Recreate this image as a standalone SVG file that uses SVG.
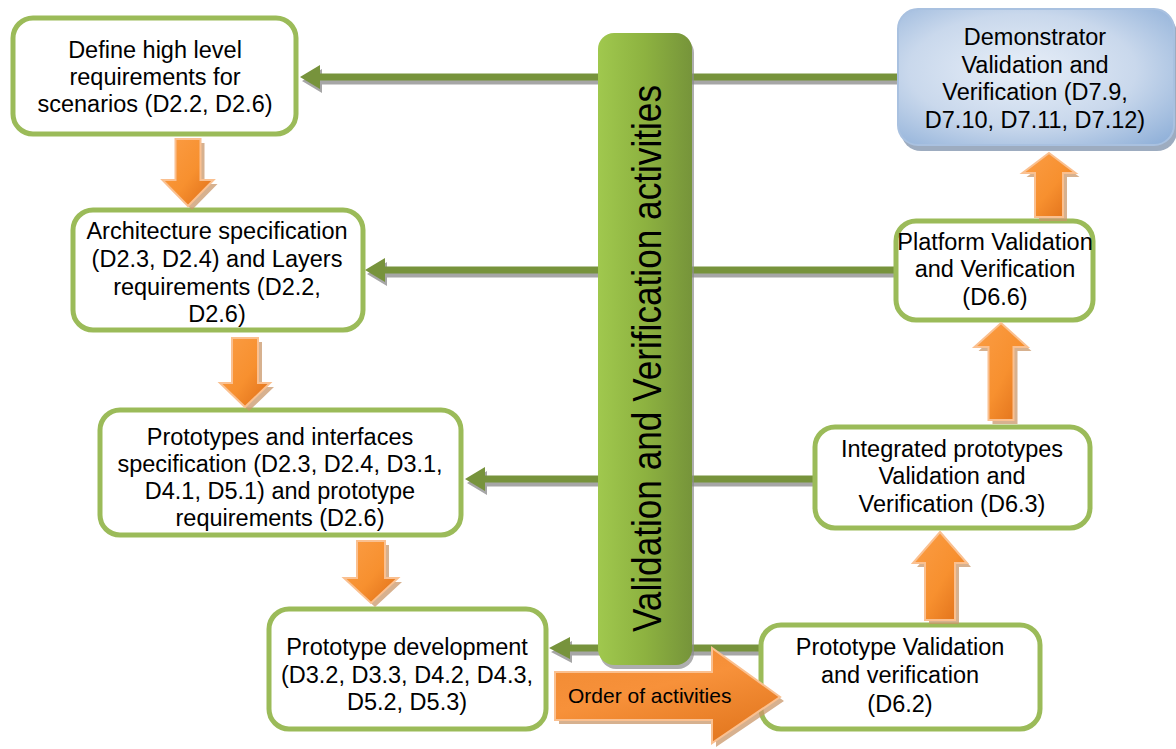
<svg xmlns="http://www.w3.org/2000/svg" width="1176" height="749" viewBox="0 0 1176 749">
  <defs>
    <linearGradient id="orangeFill" x1="0" y1="0" x2="1" y2="1">
      <stop offset="0" stop-color="#FB9D45"/>
      <stop offset="0.55" stop-color="#F7902F"/>
      <stop offset="1" stop-color="#DD6C17"/>
    </linearGradient>
    <linearGradient id="orderFill" x1="0" y1="0" x2="0.6" y2="1">
      <stop offset="0" stop-color="#F08A33"/>
      <stop offset="0.5" stop-color="#F7913A"/>
      <stop offset="1" stop-color="#E57A22"/>
    </linearGradient>
    <linearGradient id="barFill" x1="0" y1="0" x2="1" y2="0">
      <stop offset="0" stop-color="#A0C84E"/>
      <stop offset="0.5" stop-color="#8DB240"/>
      <stop offset="1" stop-color="#76943A"/>
    </linearGradient>
    <radialGradient id="blueFill" cx="0.45" cy="0.45" r="0.75">
      <stop offset="0" stop-color="#E8EFF8"/>
      <stop offset="0.55" stop-color="#C9D8EC"/>
      <stop offset="1" stop-color="#8EAFD8"/>
    </radialGradient>
    <style>
      .box { fill: #ffffff; stroke: #9BBB59; stroke-width: 5; }
      .label { font-family: "Liberation Sans", Arial, sans-serif; font-size: 23.5px; fill: #000000; text-anchor: middle; }
      .link { fill: #77933C; }
      .link-shadow { fill: #A6A6A6; }
      .flow { fill: url(#orangeFill); stroke: #FAC090; stroke-width: 2; stroke-linejoin: miter; }
      .flow-shadow { fill: #C9976A; opacity: 0.75; }
    </style>
  </defs>

  <rect width="1176" height="749" fill="#ffffff"/>

  <!-- feedback links from the V&V side back to the specification side -->
  <g id="connectors">
    <g transform="translate(2,4)">
      <path class="link-shadow" d="M897,73.5 H320 V65 L300,77 L320,89 V80.5 H897 Z"/>
      <path class="link-shadow" d="M895,266.5 H385 V258 L365,270 L385,282 V273.5 H895 Z"/>
      <path class="link-shadow" d="M815,475.5 H485 V467 L465,479 L485,491 V482.5 H815 Z"/>
      <path class="link-shadow" d="M762,644.5 H570 V637 L549,648 L570,659 V651.5 H762 Z"/>
    </g>
    <path class="link" d="M897,73.5 H320 V65 L300,77 L320,89 V80.5 H897 Z"/>
    <path class="link" d="M895,266.5 H385 V258 L365,270 L385,282 V273.5 H895 Z"/>
    <path class="link" d="M815,475.5 H485 V467 L465,479 L485,491 V482.5 H815 Z"/>
    <path class="link" d="M762,644.5 H570 V637 L549,648 L570,659 V651.5 H762 Z"/>
  </g>

  <!-- central V&V bar -->
  <g id="vv-bar">
    <rect x="600" y="37" width="94" height="632" rx="16" fill="#8C8C8C" opacity="0.7"/>
    <rect x="598" y="33" width="94" height="632" rx="16" fill="url(#barFill)"/>
    <text transform="translate(661,632) rotate(-90)" font-family="'Liberation Sans', Arial, sans-serif" font-size="40" textLength="547" lengthAdjust="spacingAndGlyphs" fill="#000000">Validation and Verification activities</text>
  </g>

  <g id="n-define">
    <rect class="box" x="13" y="18" width="283" height="116" rx="20"/>
    <text class="label"><tspan x="155" y="58">Define high level</tspan><tspan x="155" y="85">requirements for</tspan><tspan x="155" y="112">scenarios (D2.2, D2.6)</tspan></text>
  </g>

  <g id="n-architecture">
    <rect class="box" x="73" y="210" width="290" height="120" rx="20"/>
    <text class="label"><tspan x="217" y="239">Architecture specification</tspan><tspan x="217" y="267">(D2.3, D2.4) and Layers</tspan><tspan x="217" y="295">requirements (D2.2,</tspan><tspan x="217" y="322">D2.6)</tspan></text>
  </g>

  <g id="n-prototypes-spec">
    <rect class="box" x="100" y="410" width="361" height="125" rx="20"/>
    <text class="label"><tspan x="280" y="445">Prototypes and interfaces</tspan><tspan x="280" y="472">specification (D2.3, D2.4, D3.1,</tspan><tspan x="280" y="499">D4.1, D5.1) and prototype</tspan><tspan x="280" y="526">requirements (D2.6)</tspan></text>
  </g>

  <g id="n-prototype-dev">
    <rect class="box" x="269" y="609" width="277" height="120" rx="20"/>
    <text class="label"><tspan x="407" y="655">Prototype development</tspan><tspan x="407" y="683">(D3.2, D3.3, D4.2, D4.3,</tspan><tspan x="407" y="710">D5.2, D5.3)</tspan></text>
  </g>

  <g id="n-prototype-vv">
    <rect class="box" x="761" y="625" width="279" height="104" rx="20"/>
    <text class="label"><tspan x="900" y="655">Prototype Validation</tspan><tspan x="900" y="683">and verification</tspan><tspan x="900" y="712">(D6.2)</tspan></text>
  </g>

  <g id="n-integrated-vv">
    <rect class="box" x="815" y="427" width="275" height="101" rx="20"/>
    <text class="label"><tspan x="952" y="457">Integrated prototypes</tspan><tspan x="952" y="484">Validation and</tspan><tspan x="952" y="512">Verification (D6.3)</tspan></text>
  </g>

  <g id="n-platform-vv">
    <rect class="box" x="896" y="221" width="197" height="99" rx="20"/>
    <text class="label"><tspan x="995" y="250">Platform Validation</tspan><tspan x="995" y="277">and Verification</tspan><tspan x="995" y="305">(D6.6)</tspan></text>
  </g>

  <g id="n-demonstrator-vv">
    <rect x="901" y="14" width="276" height="137" rx="20" fill="#8497B0" opacity="0.8"/>
    <rect x="898" y="9" width="276" height="136" rx="20" fill="url(#blueFill)" stroke="#A9C1E0" stroke-width="2"/>
    <text class="label"><tspan x="1035" y="45">Demonstrator</tspan><tspan x="1035" y="73">Validation and</tspan><tspan x="1035" y="100">Verification (D7.9,</tspan><tspan x="1035" y="128">D7.10, D7.11, D7.12)</tspan></text>
  </g>

  <!-- order of activities: block arrows -->
  <g id="flow-arrows">
    <g transform="translate(4,4)">
      <polygon class="flow-shadow" points="175.5,139 200.5,139 200.5,180 213.5,180 188,206 162.5,180 175.5,180"/>
      <polygon class="flow-shadow" points="232,338 258,338 258,383 270,383 245,407 220,383 232,383"/>
      <polygon class="flow-shadow" points="357,541 385,541 385,578 398,578 371,603 344,578 357,578"/>
      <polygon class="flow-shadow" points="940,532 967,563 955,563 955,620 925,620 925,563 913,563"/>
      <polygon class="flow-shadow" points="1001,323 1027.5,347 1013.5,347 1013.5,420 988.5,420 988.5,347 974.5,347"/>
      <polygon class="flow-shadow" points="1049,153 1075.5,173 1063,173 1063,217 1035,217 1035,173 1022.5,173"/>
      <polygon class="flow-shadow" points="555,672 712,672 712,648 780,697 712,743 712,720 555,720"/>
    </g>
    <polygon class="flow" points="175.5,139 200.5,139 200.5,180 213.5,180 188,206 162.5,180 175.5,180"/>
    <polygon class="flow" points="232,338 258,338 258,383 270,383 245,407 220,383 232,383"/>
    <polygon class="flow" points="357,541 385,541 385,578 398,578 371,603 344,578 357,578"/>
    <polygon class="flow" points="940,532 967,563 955,563 955,620 925,620 925,563 913,563"/>
    <polygon class="flow" points="1001,323 1027.5,347 1013.5,347 1013.5,420 988.5,420 988.5,347 974.5,347"/>
    <polygon class="flow" points="1049,153 1075.5,173 1063,173 1063,217 1035,217 1035,173 1022.5,173"/>
    <polygon class="flow" style="fill:url(#orderFill)" points="555,672 712,672 712,648 780,697 712,743 712,720 555,720"/>
    <text x="568" y="703" font-family="'Liberation Sans', Arial, sans-serif" font-size="21" fill="#000000">Order of activities</text>
  </g>
</svg>
